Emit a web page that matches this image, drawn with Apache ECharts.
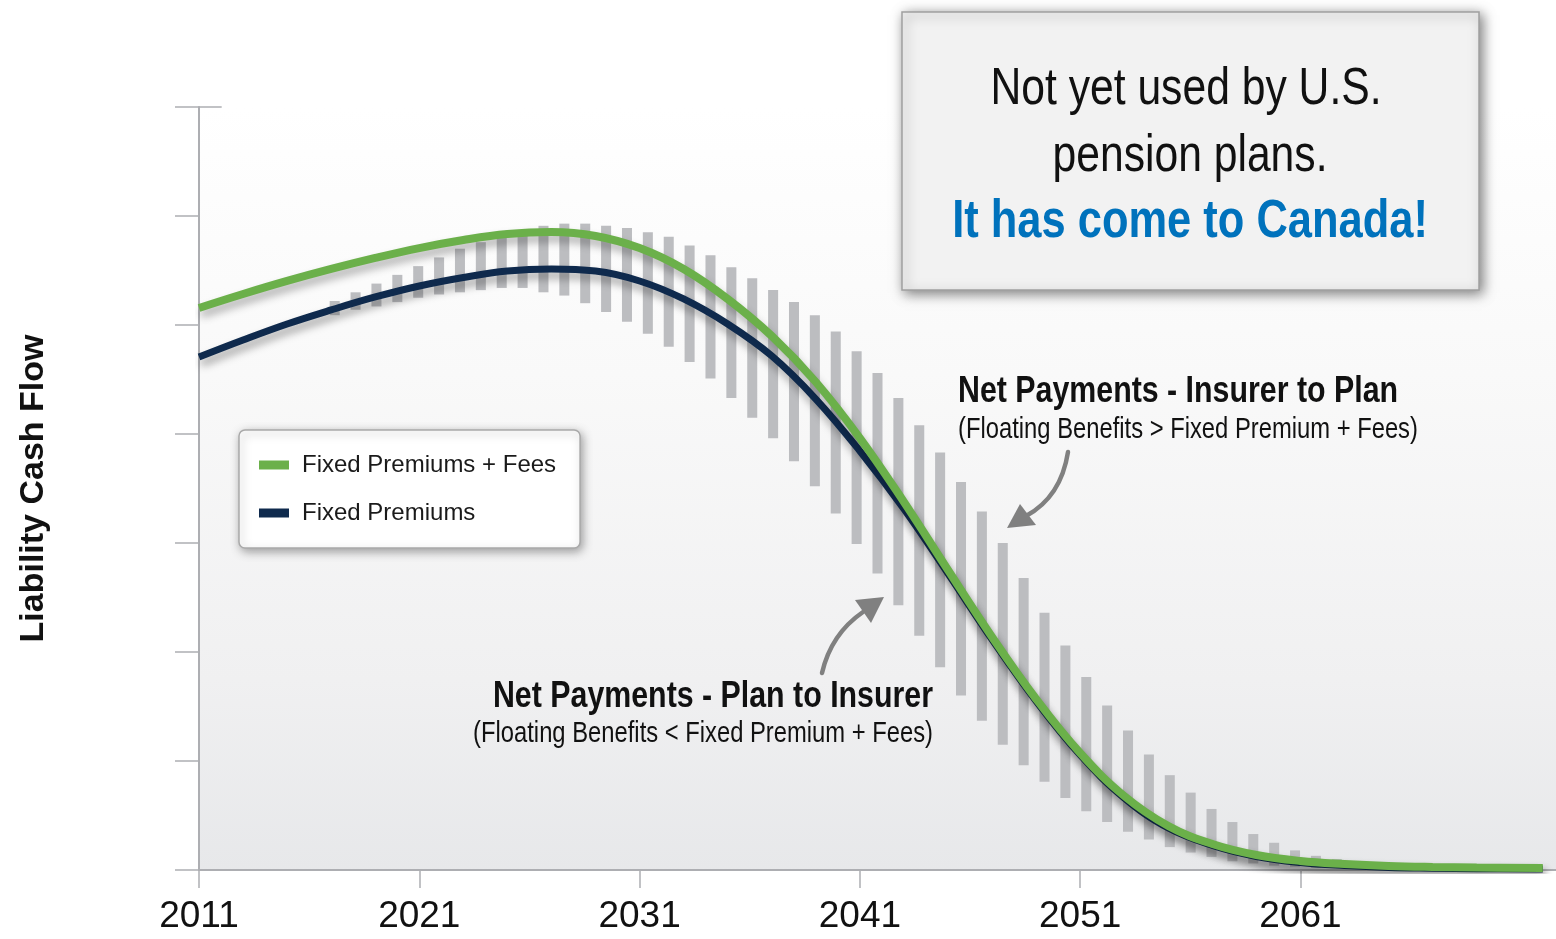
<!DOCTYPE html>
<html>
<head>
<meta charset="utf-8">
<script src="https://cdn.jsdelivr.net/npm/echarts@6/dist/echarts.min.js"></script>
<style>
  html, body { margin: 0; padding: 0; background: #ffffff; }
  #chart { width: 1556px; height: 939px; }
</style>
</head>
<body>
<div id="chart"></div>
<script>
// Projected liability cash flow: fixed-premium legs vs. the floating-benefit range.
const years = [2011, 2013, 2015, 2017, 2019, 2021, 2023, 2025, 2027, 2029, 2031, 2033, 2035, 2037, 2039,
  2041, 2043, 2045, 2047, 2049, 2051, 2053, 2055, 2057, 2059, 2061, 2063, 2065, 2067, 2069, 2072];
const premiumsPlusFees = [5.156, 5.284, 5.404, 5.514, 5.615, 5.706, 5.780, 5.835, 5.853, 5.817, 5.706, 5.514,
  5.239, 4.899, 4.477, 3.963, 3.376, 2.752, 2.138, 1.569, 1.073, 0.679, 0.404, 0.239, 0.138, 0.083, 0.055,
  0.037, 0.028, 0.023, 0.018];
const premiums = [4.706, 4.862, 5.009, 5.138, 5.257, 5.358, 5.436, 5.495, 5.514, 5.495, 5.404, 5.239,
  5.009, 4.716, 4.321, 3.844, 3.312, 2.720, 2.115, 1.550, 1.055, 0.661, 0.385, 0.225, 0.124, 0.069, 0.041,
  0.024, 0.017, 0.012, 0.009];

// Floating benefits: one range bar per period slot
const firstBenefitSlot = 6;
const benefitHigh = [5.22, 5.30, 5.38, 5.46, 5.54, 5.62, 5.70, 5.76, 5.83, 5.87, 5.91, 5.93, 5.93, 5.91, 5.89,
  5.85, 5.81, 5.73, 5.64, 5.53, 5.43, 5.32, 5.21, 5.09, 4.94, 4.76, 4.56, 4.33, 4.08, 3.83, 3.56, 3.29, 3.00,
  2.68, 2.36, 2.06, 1.77, 1.51, 1.28, 1.06, 0.87, 0.71, 0.56, 0.44, 0.33, 0.25, 0.18, 0.13, 0.10, 0.06, 0.04];
const benefitLow = [5.09, 5.14, 5.17, 5.21, 5.25, 5.28, 5.30, 5.32, 5.34, 5.34, 5.30, 5.27, 5.20, 5.12, 5.03,
  4.92, 4.80, 4.66, 4.51, 4.33, 4.15, 3.96, 3.75, 3.52, 3.27, 2.99, 2.72, 2.43, 2.15, 1.86, 1.60, 1.37, 1.15,
  0.96, 0.81, 0.66, 0.54, 0.44, 0.35, 0.28, 0.21, 0.16, 0.12, 0.08, 0.06, 0.04, 0.03, 0.02, 0.02, 0.01, 0.01];
const periodSlots = Array.from({ length: 65 }, (_, i) => 'P' + (i + 1));

const yearTicks = [2011, 2021, 2031, 2041, 2051, 2061];

const seriesNames = ['Fixed Premiums + Fees', 'Fixed Premiums'];
const GREEN = '#6bb04a';
const NAVY = '#0f2a4d';
const AXIS_GRAY = '#adaeb2';

// Prefer a condensed face; fall back to squeezing the regular one.
function hasFont(name) {
  const ctx = document.createElement('canvas').getContext('2d');
  const probe = 'WWWmmmiiilll1234567890';
  ctx.font = '40px monospace';
  const a = ctx.measureText(probe).width;
  ctx.font = '40px "' + name + '", monospace';
  const b = ctx.measureText(probe).width;
  return Math.abs(a - b) > 0.5;
}
const narrow = hasFont('Liberation Sans Narrow');
const FONT = narrow ? '"Liberation Sans Narrow", "Liberation Sans", sans-serif' : '"Liberation Sans", Arial, sans-serif';
const squeeze = narrow ? 1 : 0.82;
const fs = (n) => Math.round(n * (narrow ? 1 : 0.84));

const linePoints = (vals) => years.map((y, i) => [y, vals[i]]);
const benefitData = benefitHigh.map((h, k) => [firstBenefitSlot + k, benefitLow[k], h]);

const chart = echarts.init(document.getElementById('chart'), null, { renderer: 'canvas' });

function text(x, y, str, size, opts) {
  return {
    type: 'text', x: x, y: y, scaleX: squeeze, z: 20,
    style: Object.assign({
      text: str, fontFamily: FONT, fontSize: size, fill: '#111111',
      textAlign: 'left', textVerticalAlign: 'middle'
    }, opts || {})
  };
}

function arrow(sx, sy, cx, cy, ex, ey, tip, b1, b2) {
  return [
    { type: 'bezierCurve', z: 15,
      shape: { x1: sx, y1: sy, x2: ex, y2: ey, cpx1: cx, cpy1: cy },
      style: { stroke: '#808080', lineWidth: 4.5, fill: null, lineCap: 'round' } },
    { type: 'polygon', z: 15,
      shape: { points: [tip, b1, b2] },
      style: { fill: '#808080' } }
  ];
}

const option = {
  animation: false,
  backgroundColor: '#ffffff',
  textStyle: { fontFamily: FONT },
  grid: {
    show: true, left: 199, top: 107, width: 1365, height: 763, borderWidth: 0,
    backgroundColor: new echarts.graphic.LinearGradient(0, 0, 0, 1, [
      { offset: 0, color: '#ffffff' },
      { offset: 0.35, color: '#f9f9f9' },
      { offset: 0.75, color: '#f0f0f1' },
      { offset: 1, color: '#e7e8ea' }
    ])
  },
  legend: {
    data: [{ name: seriesNames[0], icon: 'rect' }, { name: seriesNames[1], icon: 'rect' }],
    orient: 'vertical', left: 239, top: 430,
    itemWidth: 30, itemHeight: 9, itemGap: 18,
    padding: [20, 24, 20, 20],
    backgroundColor: '#ffffff', borderColor: '#a9a9a9', borderWidth: 1.5, borderRadius: 6,
    shadowBlur: 10, shadowColor: 'rgba(0,0,0,0.35)', shadowOffsetX: 2, shadowOffsetY: 3,
    selectedMode: false,
    textStyle: { fontFamily: FONT, fontSize: fs(29), color: '#1a1a1a', lineHeight: 30, padding: [0, 0, 0, 8] }
  },
  xAxis: [
    {
      type: 'value', min: 2011, max: 2072.6, gridIndex: 0, position: 'bottom',
      splitLine: { show: false },
      axisLine: { show: true, lineStyle: { color: AXIS_GRAY, width: 2 } },
      axisTick: { show: true, customValues: yearTicks, length: 18, lineStyle: { color: AXIS_GRAY, width: 1.5 } },
      axisLabel: {
        customValues: yearTicks, margin: 28, color: '#111111',
        fontFamily: FONT, fontSize: narrow ? 44 : 37, formatter: (v) => String(v)
      }
    },
    {
      type: 'category', data: periodSlots, gridIndex: 0, boundaryGap: true, show: false
    }
  ],
  yAxis: {
    type: 'value', min: 0, max: 7, interval: 1,
    splitLine: { show: false },
    axisLine: { show: true, lineStyle: { color: AXIS_GRAY, width: 2 } },
    axisTick: { show: true, length: 24, lineStyle: { color: AXIS_GRAY, width: 1.5 } },
    axisLabel: { show: false },
    name: 'Liability Cash Flow', nameLocation: 'middle', nameRotate: 90, nameGap: 148,
    nameTextStyle: { fontFamily: FONT, fontSize: fs(40), fontWeight: 'bold', color: '#111111' }
  },
  series: [
    {
      name: 'Floating Benefits', type: 'custom', xAxisIndex: 1, yAxisIndex: 0, z: 1, silent: true,
      encode: { x: 0, y: [1, 2] },
      data: benefitData,
      renderItem: function (params, api) {
        const slot = api.value(0);
        const lo = api.coord([slot, api.value(1)]);
        const hi = api.coord([slot, api.value(2)]);
        const w = api.size([1, 0])[0] * 0.48;
        return {
          type: 'rect',
          shape: { x: lo[0] - w / 2, y: hi[1], width: w, height: lo[1] - hi[1] },
          style: { fill: '#bcbdc0' }
        };
      }
    },
    {
      name: seriesNames[1], type: 'line', xAxisIndex: 0, z: 3, silent: true,
      data: linePoints(premiums), smooth: 0.4, showSymbol: false, symbol: 'none',
      color: NAVY,
      lineStyle: { color: NAVY, width: 7, shadowColor: 'rgba(0,0,0,0.35)', shadowBlur: 8, shadowOffsetX: 2, shadowOffsetY: 6 }
    },
    {
      name: seriesNames[0], type: 'line', xAxisIndex: 0, z: 4, silent: true,
      data: linePoints(premiumsPlusFees), smooth: 0.4, showSymbol: false, symbol: 'none',
      color: GREEN,
      lineStyle: { color: GREEN, width: 8, shadowColor: 'rgba(0,0,0,0.3)', shadowBlur: 8, shadowOffsetX: 2, shadowOffsetY: 6 },
      markLine: {
        silent: true, symbol: 'none', label: { show: false },
        lineStyle: { color: AXIS_GRAY, width: 1.5, type: 'solid' },
        emphasis: { disabled: true },
        data: [[{ coord: [2011, 7] }, { coord: [2012.03, 7] }]]
      }
    }
  ],
  graphic: [
    // callout box
    { type: 'rect', z: 10,
      shape: { x: 902, y: 12, width: 577, height: 278 },
      style: { fill: '#f2f2f2', stroke: '#a0a0a0', lineWidth: 1.5,
        shadowBlur: 12, shadowColor: 'rgba(0,0,0,0.5)', shadowOffsetX: 3, shadowOffsetY: 3 } },
    text(1186, 90, 'Not yet used by U.S.', 52, { textAlign: 'center' }),
    text(1190, 157, 'pension plans.', 52, { textAlign: 'center' }),
    text(1190, 222, 'It has come to Canada!', 53, { textAlign: 'center', fontWeight: 'bold', fill: '#0072bc' }),
    // annotations
    text(958, 392, 'Net Payments - Insurer to Plan', 37, { fontWeight: 'bold' }),
    text(958, 430, '(Floating Benefits > Fixed Premium + Fees)', 29),
    text(933, 697, 'Net Payments - Plan to Insurer', 37, { fontWeight: 'bold', textAlign: 'right' }),
    text(933, 734, '(Floating Benefits < Fixed Premium + Fees)', 29, { textAlign: 'right' }),
    ...arrow(1068, 452, 1061, 497, 1026, 516, [1007, 528], [1036, 525], [1020, 504]),
    ...arrow(822, 673, 831, 634, 863, 612, [884, 597], [855, 600], [871, 623])
  ]
};

chart.setOption(option);
</script>
</body>
</html>
